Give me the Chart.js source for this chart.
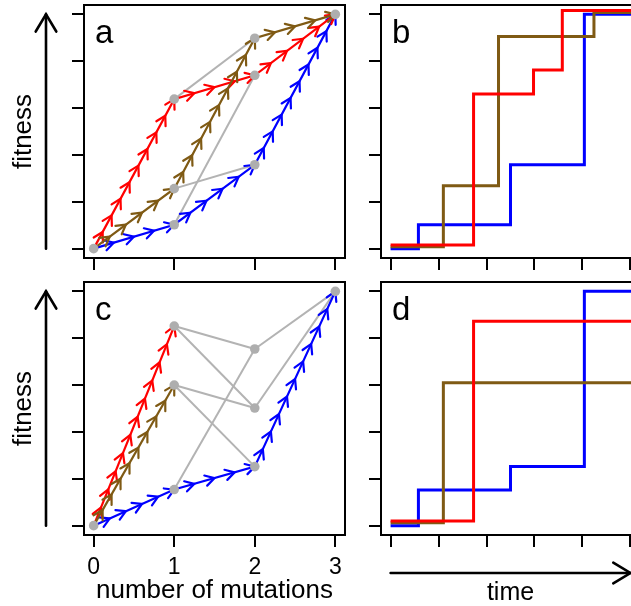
<!DOCTYPE html>
<html>
<head>
<meta charset="utf-8">
<script src="https://cdn.jsdelivr.net/npm/chart.js@4.4.1/dist/chart.umd.min.js"></script>
<style>
  html, body { margin: 0; padding: 0; background: #fff; overflow: hidden; }
  #fig { position: relative; width: 631px; height: 606px; overflow: hidden; }
  canvas { position: absolute; }
</style>
</head>
<body>
<div id="fig">
  <canvas id="panelA" width="360" height="270" style="left:0;top:0;width:360px;height:270px"></canvas>
  <canvas id="panelB" width="300" height="270" style="left:350px;top:0;width:300px;height:270px"></canvas>
  <canvas id="panelC" width="360" height="340" style="left:0;top:270px;width:360px;height:340px"></canvas>
  <canvas id="panelD" width="300" height="340" style="left:350px;top:270px;width:300px;height:340px"></canvas>
</div>
<script>
// Tick values
const mutationTicks = [0, 1, 2, 3];
const fitnessTicks = [0, 1, 2, 3, 4, 5];
const timeTicks = [0, 1, 2, 3, 4, 5];

// Panel a: fitness along each path, by number of mutations
const aRed = [0, 3.19, 3.70, 5.0];
const aBrown = [0, 1.28, 4.49, 5.0];
const aBlue = [0, 0.51, 1.79, 5.0];
// other edges of the cube: [mutations, fitness, mutations, fitness]
const aGreyEdges = [
  [1, 3.19, 2, 4.49],
  [1, 1.28, 2, 1.79],
  [1, 0.51, 2, 3.70]
];

// Panel c
const cRed = [0, 4.26];
const cBrown = [0, 3.00];
const cBlue = [0, 0.77, 1.26, 5.0];
const cGreyEdges = [
  [1, 4.26, 2, 3.77],
  [1, 4.26, 2, 2.51],
  [1, 3.00, 2, 2.51],
  [1, 3.00, 2, 1.26],
  [1, 0.77, 2, 3.77],
  [2, 3.77, 3, 5.0],
  [2, 2.51, 3, 5.0]
];

// Panel b: fitness over time (step changes)
const bRedTimes = [0, 1.73, 2.98, 3.58, 5.2];
const bRedFitness = [0.08, 3.30, 3.81, 5.08, 5.08];
const bBrownTimes = [0, 1.10, 2.25, 4.24, 5.2];
const bBrownFitness = [0.04, 1.34, 4.53, 5.04, 5.04];
const bBlueTimes = [0, 0.58, 2.50, 4.04, 5.2];
const bBlueFitness = [0, 0.51, 1.79, 5.0, 5.0];

// Panel d
const dRedTimes = [0, 1.73, 5.2];
const dRedFitness = [0.10, 4.36, 4.36];
const dBrownTimes = [0, 1.10, 5.2];
const dBrownFitness = [0.06, 3.05, 3.05];
const dBlueTimes = [0, 0.58, 2.50, 4.04, 5.2];
const dBlueFitness = [0, 0.76, 1.26, 5.0, 5.0];

const RED = '#ff0000', BLUE = '#0000ff', BROWN = '#7f5a14';
const EDGE_GREY = '#b3b3b3', NODE_GREY = '#aeaeae';
const FONT = '"Liberation Sans", Arial, Helvetica, sans-serif';

Chart.defaults.font.family = FONT;
Chart.defaults.color = '#000';

// Dataset helpers
function pathSet(ys, color) {
  return {
    data: ys.map((y, i) => ({ x: mutationTicks[i], y })),
    showLine: true, borderColor: color, borderWidth: 2.2, pointRadius: 0, chevrons: true
  };
}

function edgeSets(edges) {
  return edges.map(e => ({
    data: [{ x: e[0], y: e[1] }, { x: e[2], y: e[3] }],
    showLine: true, borderColor: EDGE_GREY, borderWidth: 2, pointRadius: 0
  }));
}

function nodeSet(paths, edges) {
  const pts = [];
  const add = (x, y) => { if (!pts.some(p => p.x === x && p.y === y)) pts.push({ x, y }); };
  paths.forEach(ys => ys.forEach((y, i) => add(mutationTicks[i], y)));
  edges.forEach(e => { add(e[0], e[1]); add(e[2], e[3]); });
  return { data: pts, showLine: false, pointRadius: 4.8, pointBackgroundColor: NODE_GREY, pointBorderWidth: 0 };
}

function stepSet(times, ys, color) {
  return {
    data: times.map((t, i) => ({ x: t, y: ys[i] })),
    showLine: true, stepped: true, borderColor: color, borderWidth: 3,
    borderJoinStyle: 'miter', pointRadius: 0
  };
}

// Axis helper
function axis(o) {
  return {
    type: 'linear', min: o.min, max: o.max,
    afterBuildTicks: s => { s.ticks = o.ticks.map(v => ({ value: v })); },
    afterFit: s => { if (o.horizontal) s.height = o.size; else s.width = o.size; },
    ticks: { display: !!o.labels, font: { size: 23 }, padding: 7, maxRotation: 0, autoSkip: false, color: '#000' },
    grid: { drawOnChartArea: false, drawTicks: true, tickLength: 12, tickWidth: 2, tickColor: '#000', lineWidth: 2, color: '#000' },
    border: { display: false },
    title: o.title ? { display: true, text: o.title, font: { size: o.titleSize }, color: '#000', padding: o.titlePad } : { display: false }
  };
}

// Arrow drawing
function head(ctx, px, py, ux, uy, len, ang) {
  const c = Math.cos(ang), s = Math.sin(ang);
  ctx.beginPath();
  ctx.moveTo(px + len * (-ux * c + uy * s), py + len * (-ux * s - uy * c));
  ctx.lineTo(px, py);
  ctx.lineTo(px + len * (-ux * c - uy * s), py + len * (ux * s - uy * c));
  ctx.stroke();
}

function arrow(ctx, x0, y0, x1, y1) {
  const len = Math.hypot(x1 - x0, y1 - y0);
  const ux = (x1 - x0) / len, uy = (y1 - y0) / len;
  ctx.beginPath();
  ctx.moveTo(x0, y0);
  ctx.lineTo(x1, y1);
  ctx.stroke();
  head(ctx, x1, y1, ux, uy, 20, 31 * Math.PI / 180);
}

// chevrons along mutation paths
const chevronPlugin = {
  id: 'chevrons',
  afterDatasetDraw(chart, args) {
    const ds = chart.data.datasets[args.index];
    if (!ds.chevrons) return;
    const xs = chart.scales.x, ys = chart.scales.y, ctx = chart.ctx;
    ctx.save();
    ctx.strokeStyle = ds.borderColor;
    ctx.lineWidth = 2.2;
    ctx.lineCap = 'round';
    for (let i = 1; i < ds.data.length; i++) {
      const x0 = xs.getPixelForValue(ds.data[i - 1].x), y0 = ys.getPixelForValue(ds.data[i - 1].y);
      const x1 = xs.getPixelForValue(ds.data[i].x), y1 = ys.getPixelForValue(ds.data[i].y);
      const dx = x1 - x0, dy = y1 - y0, len = Math.hypot(dx, dy);
      const n = Math.max(1, Math.round(len / 19));
      for (let k = 1; k <= n; k++) {
        head(ctx, x0 + dx * k / n, y0 + dy * k / n, dx / len, dy / len, 10.5, Math.PI / 6);
      }
    }
    ctx.restore();
  }
};

// box, panel letter and the axis arrows
const framePlugin = {
  id: 'frame',
  afterDraw(chart, args, opts) {
    const { ctx, chartArea: a } = chart;
    ctx.save();
    ctx.strokeStyle = '#000';
    ctx.lineWidth = 2;
    ctx.strokeRect(a.left, a.top, a.right - a.left, a.bottom - a.top);
    ctx.fillStyle = '#000';
    ctx.font = '33px ' + FONT;
    ctx.textBaseline = 'alphabetic';
    ctx.fillText(opts.letter, a.left + 11, a.top + 38);
    ctx.lineWidth = 2.6;
    ctx.lineCap = 'round';
    if (opts.fitnessArrow) {
      const ys = chart.scales.y, x = a.left - 38;
      arrow(ctx, x, ys.getPixelForValue(fitnessTicks[0]), x, ys.getPixelForValue(fitnessTicks[fitnessTicks.length - 1]));
    }
    if (opts.timeArrow) {
      const xs = chart.scales.x, y = a.bottom + 38;
      arrow(ctx, xs.getPixelForValue(timeTicks[0]), y, xs.getPixelForValue(timeTicks[timeTicks.length - 1]), y);
    }
    ctx.restore();
  }
};

function makeChart(id, o) {
  return new Chart(document.getElementById(id), {
    type: 'scatter',
    data: { datasets: o.datasets },
    options: {
      responsive: false,
      animation: false,
      devicePixelRatio: 1,
      events: [],
      layout: { padding: o.padding },
      scales: { x: o.x, y: o.y },
      plugins: { legend: { display: false }, tooltip: { enabled: false }, frame: o.frame }
    },
    plugins: [chevronPlugin, framePlugin]
  });
}

const fitnessAxis = (size, title) => axis({
  min: -0.2, max: 5.2, ticks: fitnessTicks, size,
  title, titleSize: 26, titlePad: { top: 8.7, bottom: 0 }
});

makeChart('panelA', {
  datasets: [nodeSet([aRed, aBrown, aBlue], aGreyEdges), pathSet(aBrown, BROWN), pathSet(aRed, RED), pathSet(aBlue, BLUE), ...edgeSets(aGreyEdges)],
  padding: { top: 5, right: 15, bottom: 0, left: 0 },
  x: axis({ min: -0.12, max: 3.12, ticks: mutationTicks, size: 12, horizontal: true }),
  y: fitnessAxis(84, 'fitness'),
  frame: { letter: 'a', fitnessArrow: true }
});

makeChart('panelB', {
  datasets: [stepSet(bRedTimes, bRedFitness, RED), stepSet(bBrownTimes, bBrownFitness, BROWN), stepSet(bBlueTimes, bBlueFitness, BLUE)],
  padding: { top: 5, right: 10, bottom: 0, left: 0 },
  x: axis({ min: -0.2, max: 5.2, ticks: timeTicks, size: 12, horizontal: true }),
  y: fitnessAxis(31, null),
  frame: { letter: 'b' }
});

makeChart('panelC', {
  datasets: [nodeSet([cRed, cBrown, cBlue], cGreyEdges), pathSet(cBrown, BROWN), pathSet(cRed, RED), pathSet(cBlue, BLUE), ...edgeSets(cGreyEdges)],
  padding: { top: 12, right: 15, bottom: 0, left: 0 },
  x: axis({ min: -0.12, max: 3.12, ticks: mutationTicks, size: 75, horizontal: true, labels: true,
    title: 'number of mutations', titleSize: 26, titlePad: { top: 0, bottom: 4 } }),
  y: fitnessAxis(84, 'fitness'),
  frame: { letter: 'c', fitnessArrow: true }
});

makeChart('panelD', {
  datasets: [stepSet(dRedTimes, dRedFitness, RED), stepSet(dBrownTimes, dBrownFitness, BROWN), stepSet(dBlueTimes, dBlueFitness, BLUE)],
  padding: { top: 12, right: 10, bottom: 0, left: 0 },
  x: axis({ min: -0.2, max: 5.2, ticks: timeTicks, size: 75, horizontal: true,
    title: 'time', titleSize: 25, titlePad: { top: 0, bottom: 2 } }),
  y: fitnessAxis(31, null),
  frame: { letter: 'd', timeArrow: true }
});
</script>
</body>
</html>
